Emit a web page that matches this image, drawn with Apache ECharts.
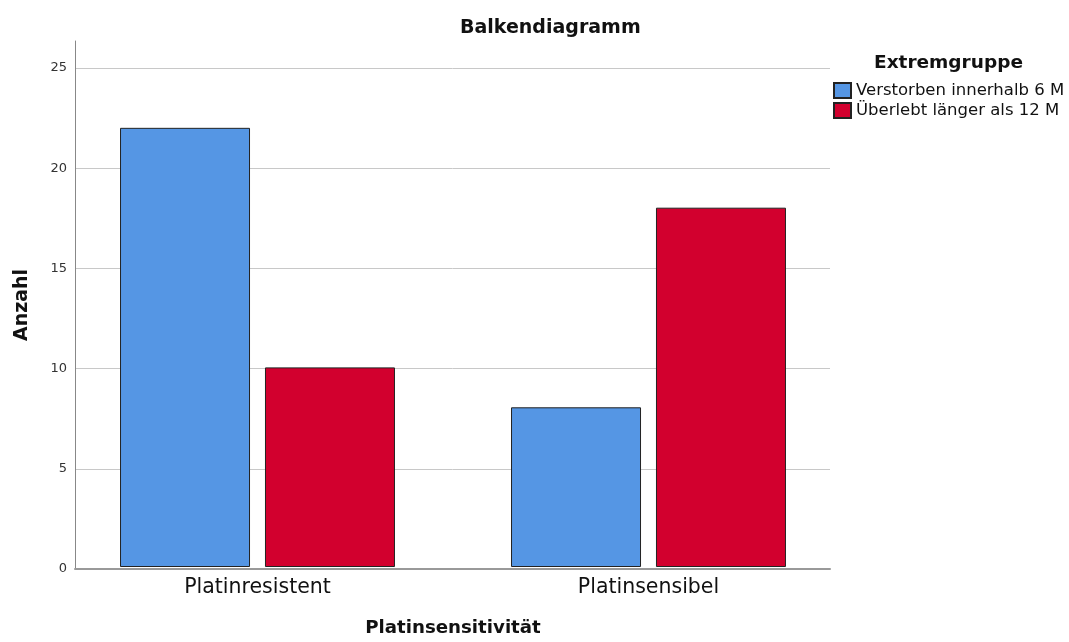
<!DOCTYPE html>
<html><head><meta charset="utf-8">
<script src="https://cdn.jsdelivr.net/npm/echarts@6/dist/echarts.min.js"></script>
<style>html,body{margin:0;padding:0;background:#fff}#c{width:1069px;height:642px}</style>
</head><body><div id="c"></div>
<script>
var categories = ['Platinresistent', 'Platinsensibel'];
var seriesNames = ['Verstorben innerhalb 6 M', 'Überlebt länger als 12 M'];
var verstorben = [22, 8];
var ueberlebt = [10, 18];
var yTicks = [0, 5, 10, 15, 20, 25];

var FONT = 'DejaVu Sans';
var chart = echarts.init(document.getElementById('c'));
chart.setOption({
  backgroundColor: '#fff',
  animation: false,
  textStyle: {fontFamily: FONT},
  title: [
    {text: 'Balkendiagramm', left: 455, top: 14, textStyle: {fontFamily: FONT, fontSize: 19, fontWeight: 'bold', color: '#111'}},
    {text: 'Extremgruppe', left: 869, top: 49, textStyle: {fontFamily: FONT, fontSize: 18.5, fontWeight: 'bold', color: '#111'}}
  ],
  legend: {
    left: 828, top: 77, orient: 'vertical', itemWidth: 17, itemHeight: 15, itemGap: 3,
    icon: 'rect',
    textStyle: {fontFamily: FONT, fontSize: 16.5, lineHeight: 15, color: '#111', padding: [0, 0, 0, 0]},
    data: seriesNames
  },
  grid: [
    {left: 75, right: 239, top: 41, bottom: 73},
    {left: 62, right: 225, top: 41, bottom: 73}
  ],
  xAxis: [
    {gridIndex: 0, type: 'value', min: 0, max: 1, axisLine: {show: true, lineStyle: {color: '#999', width: 2}},
     axisTick: {show: false}, axisLabel: {show: false}, splitLine: {show: false}},
    {gridIndex: 1, type: 'category', data: categories, axisLine: {show: false}, axisTick: {show: false},
     axisLabel: {fontFamily: FONT, fontSize: 20.5, color: '#111', margin: 10},
     name: 'Platinsensitivität', nameLocation: 'middle', nameGap: 52,
     nameTextStyle: {fontFamily: FONT, fontSize: 18.2, fontWeight: 'bold', color: '#111'}}
  ],
  yAxis: [
    {gridIndex: 0, type: 'value', min: yTicks[0], max: 26.35, interval: 5,
     axisLine: {show: true, lineStyle: {color: '#888', width: 1}}, axisTick: {show: false},
     axisLabel: {fontFamily: FONT, fontSize: 13, color: '#333', margin: 8, showMaxLabel: false,
       formatter: function (v) { return yTicks.indexOf(v) >= 0 ? String(v) : ''; }},
     splitLine: {show: true, showMinLine: false, showMaxLine: false, lineStyle: {color: '#c8c8c8', width: 1}},
     name: 'Anzahl', nameLocation: 'middle', nameGap: 43,
     nameTextStyle: {fontFamily: FONT, fontSize: 19, fontWeight: 'bold', color: '#111'}},
    {gridIndex: 1, type: 'value', min: 0, max: 26.35, show: false}
  ],
  series: [
    {name: seriesNames[0], type: 'bar', xAxisIndex: 1, yAxisIndex: 1, data: verstorben,
     barWidth: 130, barGap: '11.5%',
     itemStyle: {color: '#5596E4', borderColor: '#222', borderWidth: 1}},
    {name: seriesNames[1], type: 'bar', xAxisIndex: 1, yAxisIndex: 1, data: ueberlebt,
     barWidth: 130, barGap: '11.5%',
     itemStyle: {color: '#D2002E', borderColor: '#222', borderWidth: 1}}
  ]
});
</script></body></html>
